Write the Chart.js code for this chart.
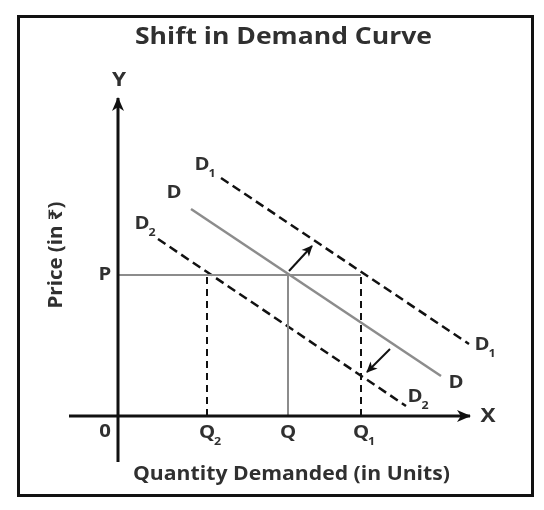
<!DOCTYPE html>
<html>
<head>
<meta charset="utf-8">
<script src="https://cdn.jsdelivr.net/npm/chart.js@4"></script>
<style>
  html, body { margin: 0; padding: 0; background: #fff; }
  #wrap { width: 544px; height: 510px; }
</style>
</head>
<body>
<div id="wrap"><canvas id="chart"></canvas></div>
<script>
// price level and the three quantities (Q2, Q, Q1)
const priceP = 14.1;
const qMarks = [8.9, 17.0, 24.3];
const qNames = ['Q', 'Q', 'Q'];
const qSubs = ['2', '', '1'];

// demand curves: start and end points [quantity, price]
const curveD = [[7.3, 20.7], [32.3, 4.0]];
const curveD1 = [[10.3, 23.8], [35.1, 7.2]];
const curveD2 = [[4.0, 17.7], [28.8, 1.0]];

// shift arrows
const shiftUp = [[17.1, 14.5], [19.4, 17.0]];
const shiftDown = [[27.2, 6.7], [24.9, 4.4]];

// axis extents
const xAxisSpan = [-4.9, 35.2];
const yAxisSpan = [-4.6, 31.8];

const BLACK = '#111';
const GREY = '#8c8c8c';
const TEXT = '#303030';
const FONT = '"Open Sans", "Noto Sans", "DejaVu Sans", sans-serif';
const STRETCH = 1.13;

const pts = arr => arr.map(p => ({x: p[0], y: p[1]}));

function seg(data, color, width, dash) {
  return {
    type: 'line', data: data, borderColor: color, borderWidth: width,
    borderDash: dash || [], pointRadius: 0, fill: false, tension: 0,
    borderCapStyle: 'butt'
  };
}

const Q2 = qMarks[0], Q = qMarks[1], Q1 = qMarks[2];

const datasets = [
  seg([{x: xAxisSpan[0], y: 0}, {x: xAxisSpan[1], y: 0}], BLACK, 3),
  seg([{x: 0, y: yAxisSpan[0]}, {x: 0, y: yAxisSpan[1]}], BLACK, 3),
  seg([{x: 0, y: priceP}, {x: Q1, y: priceP}], GREY, 2),
  seg([{x: Q, y: 0}, {x: Q, y: priceP}], GREY, 2),
  seg([{x: Q2, y: 0}, {x: Q2, y: priceP}], BLACK, 2, [7, 5]),
  seg([{x: Q1, y: 0}, {x: Q1, y: priceP}], BLACK, 2, [7, 5]),
  seg(pts(curveD), GREY, 2.5),
  seg(pts(curveD1), BLACK, 2.5, [9, 5]),
  seg(pts(curveD2), BLACK, 2.5, [9, 5]),
  seg(pts(shiftUp), BLACK, 2),
  seg(pts(shiftDown), BLACK, 2)
];

// text labels placed in data units
const curveLabels = [
  {x: 8.4, y: 25.1, t: 'D', s: '1'},
  {x: 36.4, y: 7.1, t: 'D', s: '1'},
  {x: 5.6, y: 22.3, t: 'D', s: ''},
  {x: 33.8, y: 3.3, t: 'D', s: ''},
  {x: 2.4, y: 19.2, t: 'D', s: '2'},
  {x: 29.7, y: 1.9, t: 'D', s: '2'}
];

const decor = {
  id: 'decor',
  beforeDraw(chart) {
    const c = chart.ctx;
    c.save();
    c.fillStyle = '#fff';
    c.fillRect(0, 0, chart.width, chart.height);
    c.strokeStyle = BLACK;
    c.lineWidth = 3;
    c.strokeRect(18.5, 16.5, 514, 479);
    c.restore();
  },
  afterDatasetsDraw(chart) {
    const c = chart.ctx;
    const xs = chart.scales.x, ys = chart.scales.y;
    const px = v => xs.getPixelForValue(v);
    const py = v => ys.getPixelForValue(v);

    function head(x0, y0, x1, y1, len, half) {
      const a = Math.atan2(y1 - y0, x1 - x0);
      c.save();
      c.translate(x1, y1);
      c.rotate(a);
      c.fillStyle = BLACK;
      c.beginPath();
      c.moveTo(1, 0);
      c.lineTo(-len, -half);
      c.lineTo(-len * 0.7, 0);
      c.lineTo(-len, half);
      c.closePath();
      c.fill();
      c.restore();
    }
    head(px(xAxisSpan[0]), py(0), px(xAxisSpan[1]), py(0), 13, 6);
    head(px(0), py(yAxisSpan[0]), px(0), py(yAxisSpan[1]), 13, 6);
    head(px(shiftUp[0][0]), py(shiftUp[0][1]), px(shiftUp[1][0]), py(shiftUp[1][1]), 10, 5);
    head(px(shiftDown[0][0]), py(shiftDown[0][1]), px(shiftDown[1][0]), py(shiftDown[1][1]), 10, 5);

    c.save();
    c.fillStyle = TEXT;
    c.textBaseline = 'middle';

    // draw text centred at (x, y), stretched sideways by factor k
    function put(text, x, y, size, k, align) {
      c.save();
      c.font = 'bold ' + size + 'px ' + FONT;
      c.textAlign = align || 'center';
      c.translate(x, y);
      c.scale(k, 1);
      c.fillText(text, 0, 0);
      c.restore();
    }
    // same, but stretched to a fixed width
    function fit(text, x, y, size, width) {
      c.font = 'bold ' + size + 'px ' + FONT;
      put(text, x, y, size, width / c.measureText(text).width);
    }
    function sub(x, y, t, s, size) {
      put(t, x, y, size, STRETCH);
      if (s) {
        c.font = 'bold ' + size + 'px ' + FONT;
        const w = c.measureText(t).width * STRETCH;
        put(s, x + w / 2 - 1, y + size * 0.5, Math.round(size * 0.62), STRETCH, 'left');
      }
    }

    curveLabels.forEach(l => sub(px(l.x), py(l.y), l.t, l.s, 18));
    qMarks.forEach((q, i) => sub(px(q), py(0) + 17, qNames[i], qSubs[i], 18));

    put('0', px(0) - 13, py(0) + 16, 18, STRETCH);
    put('P', px(0) - 13, py(priceP), 18, STRETCH);
    put('Y', px(0) + 1, py(yAxisSpan[1]) - 18, 20, STRETCH);
    put('X', px(xAxisSpan[1]) + 18, py(0), 20, STRETCH);

    fit('Shift in Demand Curve', 283.5, 37, 24, 297);
    fit('Quantity Demanded (in Units)', 291.5, 475, 19, 317);
    c.translate(57, 255);
    c.rotate(-Math.PI / 2);
    fit('Price (in ₹)', 0, 0, 19, 107);
    c.restore();
  }
};

new Chart(document.getElementById('chart'), {
  type: 'scatter',
  data: {datasets: datasets},
  options: {
    responsive: true,
    maintainAspectRatio: false,
    animation: false,
    layout: {padding: 0},
    plugins: {legend: {display: false}, tooltip: {enabled: false}},
    scales: {
      x: {type: 'linear', display: false, min: -11.8, max: 42.6},
      y: {type: 'linear', display: false, min: -9.4, max: 41.6}
    }
  },
  plugins: [decor]
});
</script>
</body>
</html>
